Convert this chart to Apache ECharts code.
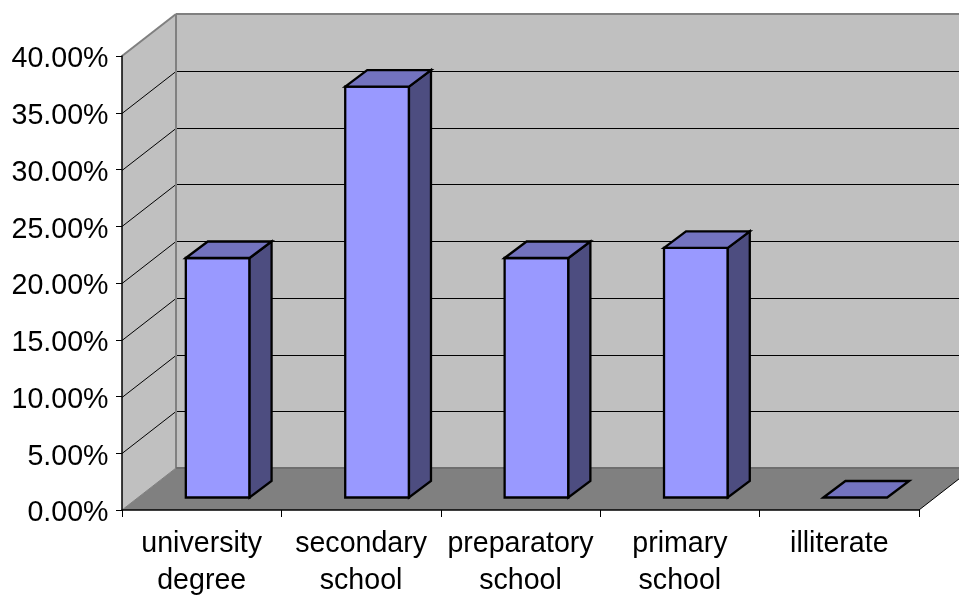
<!DOCTYPE html>
<html>
<head>
<meta charset="utf-8">
<style>html,body{margin:0;padding:0;background:#fff}#chart{width:959px;height:596px}</style>
<script src="https://cdn.jsdelivr.net/npm/echarts@6/dist/echarts.min.js"></script>
</head>
<body>
<div id="chart"></div>
<script>
// Education level shares
const categories = ['university\ndegree', 'secondary\nschool', 'preparatory\nschool', 'primary\nschool', 'illiterate'];
const shares = [21.1, 36.2, 21.1, 22.0, 0];
const gridValues = [5, 10, 15, 20, 25, 30, 35, 40];

// Oblique projection of the box: wall depth, bar inset from the front edge, bar depth
const WALL = { dx: 54, dy: 42 };
const INSET = { dx: 16, dy: 12.5 };
const DEPTH = { dx: 22, dy: 16.5 };

const WALL_FILL = '#c0c0c0';
const FLOOR_FILL = '#808080';
const EDGE = '#808080';

const poly = (points, fill, stroke, lineWidth) => ({
  type: 'polygon',
  shape: { points },
  style: { fill, stroke, lineWidth, lineJoin: 'miter' }
});
const line = (x1, y1, x2, y2, stroke, lineWidth) => ({
  type: 'line',
  shape: { x1, y1, x2, y2 },
  style: { stroke, lineWidth }
});

// Back wall, side wall, floor and the gridlines wrapping around them
function renderWalls(params, api) {
  const box = params.coordSys;
  const L = box.x, R = box.x + box.width;
  const B = api.coord([0, 0])[1], T = api.coord([0, 40])[1];
  const dx = WALL.dx, dy = WALL.dy;
  const children = [
    poly([[L + dx, T - dy], [R + dx, T - dy], [R + dx, B - dy], [L + dx, B - dy]], WALL_FILL, 'none', 0),
    poly([[L, T], [L + dx, T - dy], [L + dx, B - dy], [L, B]], WALL_FILL, 'none', 0),
    poly([[L, B], [L + dx, B - dy], [R + dx, B - dy], [R, B]], FLOOR_FILL, 'none', 0)
  ];
  gridValues.slice(0, -1).forEach(v => {
    const y = Math.round(api.coord([0, v])[1]) + 0.5;
    children.push(line(L, y, L + dx, y - dy, '#000', 1));
    children.push(line(L + dx, y - dy, R + dx, y - dy, '#000', 1));
  });
  children.push(
    line(L, T, L + dx, T - dy, EDGE, 2),
    line(L + dx, T - dy, R + dx, T - dy, EDGE, 2),
    line(L + dx, T - dy, L + dx, B - dy, EDGE, 2),
    line(L + dx, B - dy, R + dx, B - dy, '#6e6e6e', 2),
    line(L, B, L + dx, B - dy, EDGE, 1),
    line(R, B, R + dx, B - dy, '#000', 1)
  );
  return { type: 'group', children };
}

// One bar: front, side and top faces
function renderBar(params, api) {
  const i = api.value(0), v = api.value(1);
  const w = api.size([1, 0])[0] / 2.5;
  const cx = api.coord([i, 0])[0] + INSET.dx;
  const x0 = cx - w / 2, x1 = cx + w / 2;
  const y0 = api.coord([i, 0])[1] - INSET.dy;
  const yt = api.coord([i, v])[1] - INSET.dy;
  const dx = DEPTH.dx, dy = DEPTH.dy;
  const stroke = '#000', lw = 2.3;
  const children = [];
  if (v > 0) {
    children.push(poly([[x0, yt], [x1, yt], [x1, y0], [x0, y0]], '#9999ff', stroke, lw));
    children.push(poly([[x1, yt], [x1 + dx, yt - dy], [x1 + dx, y0 - dy], [x1, y0]], '#4d4d80', stroke, lw));
  }
  children.push(poly([[x0, yt], [x0 + dx, yt - dy], [x1 + dx, yt - dy], [x1, yt]], '#7373bf', stroke, lw));
  return { type: 'group', children };
}

const chart = echarts.init(document.getElementById('chart'), null, { renderer: 'canvas' });
const textStyle = { color: '#000', fontFamily: '"Liberation Sans", Arial, sans-serif', fontSize: 28.6 };

chart.setOption({
  animation: false,
  backgroundColor: '#fff',
  grid: { left: 122, right: 40, top: 56, bottom: 86, containLabel: false, outerBoundsMode: 'none' },
  xAxis: {
    type: 'category',
    data: categories,
    z: 5,
    boundaryGap: true,
    axisLine: { show: true, lineStyle: { color: '#000', width: 1.5 } },
    axisTick: { show: true, alignWithLabel: false, length: 7, lineStyle: { color: '#000', width: 1 } },
    axisLabel: { ...textStyle, interval: 0, margin: 15, lineHeight: 37.5, hideOverlap: false }
  },
  yAxis: {
    type: 'value',
    min: 0,
    max: 40,
    interval: 5,
    z: 5,
    axisLine: { show: true, lineStyle: { color: '#000', width: 1.5 } },
    axisTick: { show: true, length: 6, lineStyle: { color: '#000', width: 1 } },
    splitLine: { show: false },
    axisLabel: {
      ...textStyle,
      margin: 13.5,
      formatter: v => '{tick|' + v.toFixed(2) + '%}',
      // Rich token so the percent labels can sit slightly below their ticks
      rich: { tick: { ...textStyle, padding: [7, 0, 0, 0] } }
    }
  },
  series: [
    { type: 'custom', z: 1, clip: false, silent: true, renderItem: renderWalls, data: [[0, 0]] },
    {
      type: 'custom',
      z: 2,
      clip: false,
      renderItem: renderBar,
      encode: { x: 0, y: 1 },
      data: shares.map((v, i) => [i, v])
    }
  ]
});
</script>
</body>
</html>
